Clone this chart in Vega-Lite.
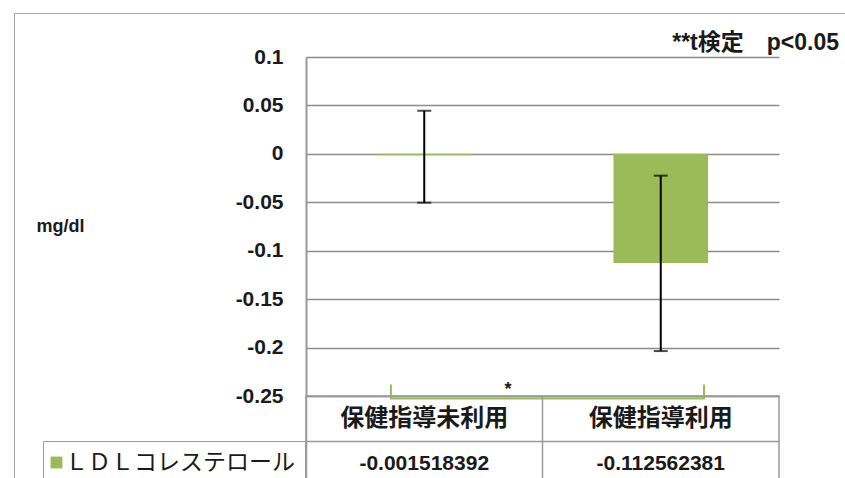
{
  "$schema": "https://vega.github.io/schema/vega-lite/v6.json",
  "padding": {"left": 12, "top": 11, "right": 0, "bottom": 0},
  "background": "white",
  "datasets": {
    "bars": [
      {"group": "保健指導未利用", "series": "ＬＤＬコレステロール", "value": -0.001518392, "label": "-0.001518392", "lo": -0.0504, "hi": 0.0445},
      {"group": "保健指導利用", "series": "ＬＤＬコレステロール", "value": -0.112562381, "label": "-0.112562381", "lo": -0.2036, "hi": -0.0225}
    ],
    "bracket": [
      {"pos": 0.359, "y": -0.2381, "order": 1},
      {"pos": 0.359, "y": -0.2525, "order": 2},
      {"pos": 1.683, "y": -0.2525, "order": 3},
      {"pos": 1.683, "y": -0.2381, "order": 4}
    ],
    "star": [{"pos": 0.854, "y": -0.2433, "text": "*"}]
  },
  "vconcat": [
    {
      "width": 473,
      "height": 339,
      "view": {"stroke": null},
      "title": {"text": "**t検定　p<0.05", "anchor": "end", "frame": "group", "dx": 60, "offset": -9, "font": "Liberation Sans, Noto Sans CJK JP", "fontSize": 23, "fontWeight": "bold", "color": "#1a1a1a"},
      "resolve": {"scale": {"x": "independent"}},
      "layer": [
        {
          "data": {"name": "bars"},
          "layer": [
            {
              "mark": {"type": "bar"},
              "encoding": {
                "x": {"field": "group", "type": "nominal", "sort": null, "scale": {"paddingInner": 0.6, "paddingOuter": 0.3}, "axis": null},
                "y": {"field": "value", "type": "quantitative", "title": "mg/dl", "scale": {"domain": [-0.25, 0.1], "nice": false, "zero": false},
                  "axis": {"values": [-0.25, -0.2, -0.15, -0.1, -0.05, 0, 0.05, 0.1],
                    "labelExpr": "replace(format(datum.value, '~g'), '−', '-')",
                    "labelFont": "Liberation Sans", "labelFontSize": 21, "labelFontWeight": "bold", "labelColor": "#1a1a1a",
                    "labelPadding": 23, "ticks": false, "domainColor": "#9a9a9a", "domainWidth": 2,
                    "grid": true, "gridColor": "#8c8c8c", "gridWidth": 1.5,
                    "title": "mg/dl", "titleAngle": 0, "titleAlign": "left", "titleBaseline": "middle", "titleX": -270, "titleY": 169,
                    "titleFont": "Liberation Sans", "titleFontSize": 18, "titleFontWeight": "bold", "titleColor": "#1a1a1a"}},
                "color": {"field": "series", "type": "nominal", "scale": {"range": ["#9BBB59"]},
                  "legend": {"title": null, "orient": "none", "legendX": -263, "legendY": 384, "padding": 10,
                    "strokeColor": "#9a9a9a", "symbolType": "square", "symbolSize": 140, "symbolStrokeWidth": 0, "symbolOffset": -8,
                    "labelFont": "Noto Sans CJK JP", "labelFontSize": 23, "labelColor": "#1a1a1a", "labelOffset": -3, "labelLimit": 400}}
              }
            },
            {
              "mark": {"type": "errorbar", "ticks": true, "size": 14, "thickness": 2, "color": "#000000"},
              "encoding": {
                "x": {"field": "group", "type": "nominal", "sort": null},
                "y": {"field": "lo", "type": "quantitative", "title": "mg/dl"},
                "y2": {"field": "hi"}
              }
            }
          ]
        },
        {
          "layer": [
            {
              "data": {"name": "bracket"},
              "mark": {"type": "line", "color": "#9BBB59", "strokeWidth": 2},
              "encoding": {
                "x": {"field": "pos", "type": "quantitative", "scale": {"domain": [0, 2], "nice": false, "zero": false}, "axis": null},
                "y": {"field": "y", "type": "quantitative", "title": "mg/dl"},
                "order": {"field": "order"}
              }
            },
            {
              "data": {"name": "star"},
              "mark": {"type": "text", "font": "Liberation Sans", "fontSize": 18, "fontWeight": "bold", "color": "#1a1a1a"},
              "encoding": {
                "x": {"field": "pos", "type": "quantitative", "axis": null},
                "y": {"field": "y", "type": "quantitative", "title": "mg/dl"},
                "text": {"field": "text"}
              }
            }
          ]
        }
      ]
    },
    {
      "width": 473,
      "height": 90,
      "view": {"stroke": "#9a9a9a", "strokeWidth": 1.5},
      "data": {"name": "bars"},
      "layer": [
        {
          "mark": {"type": "text", "font": "Noto Sans CJK JP", "fontSize": 24, "fontWeight": "bold", "color": "#1a1a1a"},
          "encoding": {
            "x": {"field": "group", "type": "nominal", "sort": null, "scale": {"type": "band", "paddingInner": 0, "paddingOuter": 0},
              "axis": {"title": null, "labels": false, "ticks": false, "domain": false, "grid": true, "bandPosition": 0, "gridColor": "#9a9a9a", "gridWidth": 1.5}},
            "y": {"datum": "header", "type": "nominal", "scale": {"type": "band", "domain": ["header", "value"], "paddingInner": 0, "paddingOuter": 0},
              "axis": {"title": null, "labels": false, "ticks": false, "domain": false, "grid": true, "bandPosition": 0, "gridColor": "#9a9a9a", "gridWidth": 1.5}},
            "text": {"field": "group"}
          }
        },
        {
          "mark": {"type": "text", "font": "Liberation Sans", "fontSize": 21, "fontWeight": "bold", "color": "#1a1a1a"},
          "encoding": {
            "x": {"field": "group", "type": "nominal", "sort": null},
            "y": {"datum": "value", "type": "nominal"},
            "text": {"field": "label"},
            "opacity": {"field": "series", "type": "nominal", "scale": {"range": [1]},
              "legend": {"title": null, "orient": "none", "legendX": -292, "legendY": -383, "padding": 1200,
                "strokeColor": "#a6a6a6", "labelFontSize": 1, "symbolSize": 1, "labelColor": "transparent", "symbolStrokeColor": "transparent", "symbolFillColor": "transparent"}}
          }
        }
      ]
    }
  ],
  "spacing": 0,
  "bounds": "flush",
  "resolve": {"legend": {"color": "independent", "opacity": "independent"}}
}
